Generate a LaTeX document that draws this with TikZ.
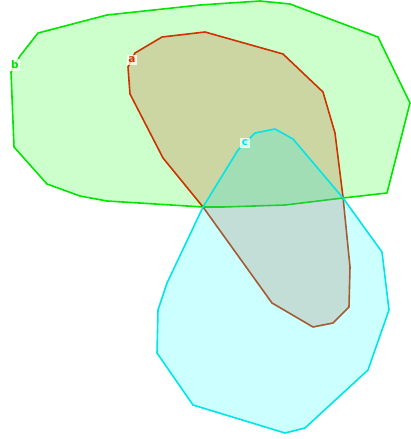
\documentclass[tikz,border=0pt]{standalone}
\usepackage{fontspec}
\setmainfont{DejaVu Sans}
\definecolor{gline}{RGB}{0,230,0}
\definecolor{gfill}{RGB}{0,255,0}
\definecolor{rline}{RGB}{204,51,0}
\definecolor{rfill}{RGB}{204,51,0}
\definecolor{cline}{RGB}{0,230,230}
\definecolor{cfill}{RGB}{0,255,255}
\tikzset{
  region/.style={line width=1.6pt, line join=round, fill opacity=0.2},
  lab/.style={fill=white, fill opacity=0.75, text opacity=1, inner sep=1.5pt, font=\bfseries\fontsize{10.5}{10.5}\selectfont}
}
\begin{document}
\begin{tikzpicture}[x=1pt,y=-1pt]
\useasboundingbox (0,0) rectangle (410,439);
% b
\draw[region, draw=gline, fill=gfill]
 (38,33) -- (107,15) -- (200,5) -- (260,1) -- (290,4) -- (378,37) -- (410,103) -- (387,193)
 -- (343,198) -- (285,205) -- (223,207) -- (203,207) -- (107,201) -- (80,196) -- (47,184)
 -- (14,147) -- (11,72) -- (20,56) -- cycle;
% a
\draw[region, draw=rline, fill=rfill]
 (135,53) -- (162,37) -- (205,32) -- (283,54) -- (323,92) -- (335,133) -- (343,197)
 -- (350,267) -- (349,307) -- (333,323) -- (313,327) -- (272,303) -- (203,207)
 -- (163,158) -- (130,94) -- (128,67) -- cycle;
% c
\draw[region, draw=cline, fill=cfill]
 (255,133) -- (275,129) -- (293,139) -- (343,198) -- (382,252) -- (389,310) -- (368,370)
 -- (305,428) -- (285,433) -- (193,405) -- (157,353) -- (158,310) -- (167,283)
 -- (203,207) -- (238,150) -- cycle;
\node[lab, text=gline] (lb) at (15,65) {b};
\node[lab, text=rline] (la) at (132,60) {a};
\node[lab, text=cline] (lc) at (245,143) {c};
\end{tikzpicture}
\end{document}
